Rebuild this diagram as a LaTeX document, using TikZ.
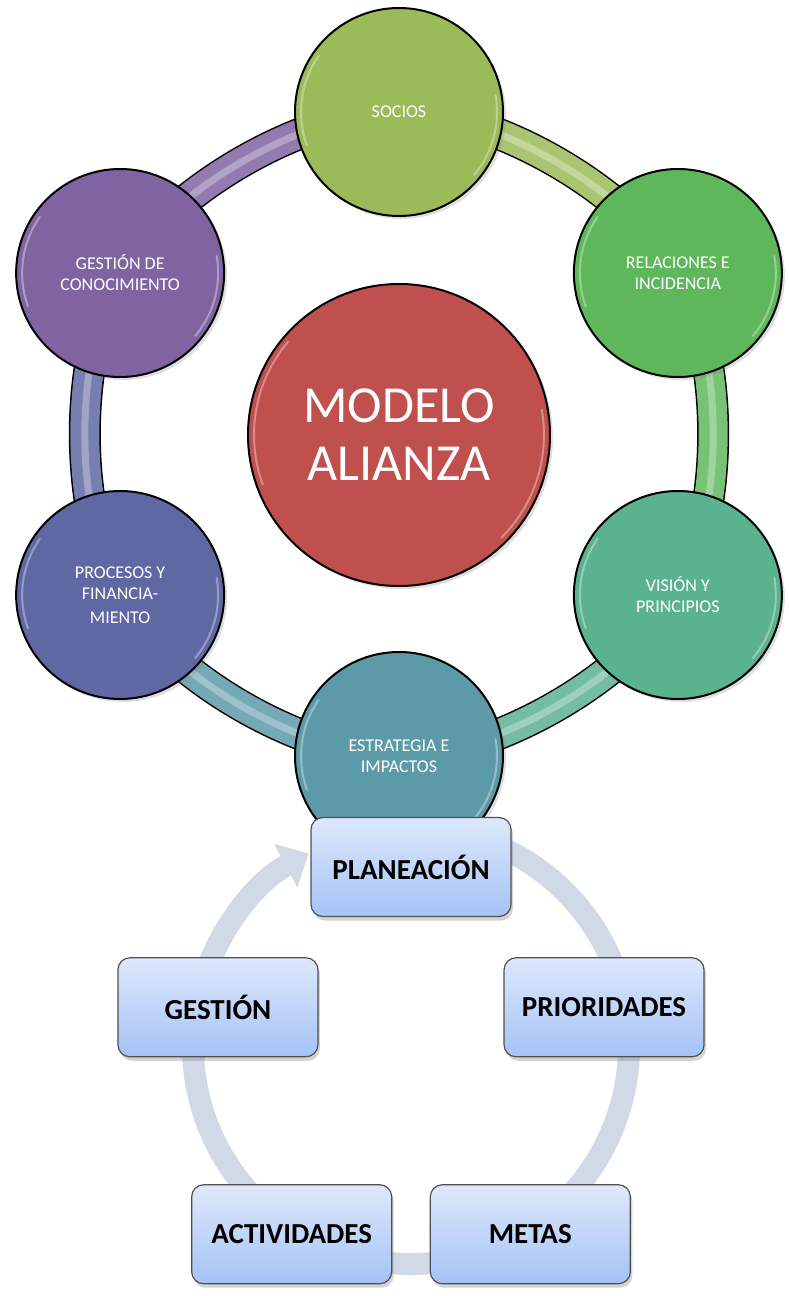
\documentclass[tikz,border=0pt]{standalone}
\usepackage{fontspec}
\setmainfont{Carlito}
\definecolor{modelcol}      {RGB}{192, 80, 77}
\definecolor{socioscol}     {RGB}{155, 187, 89}
\definecolor{relcol}        {RGB}{95, 183, 92}
\definecolor{viscol}        {RGB}{91, 178, 143}
\definecolor{estcol}        {RGB}{93, 154, 168}
\definecolor{procol}        {RGB}{95, 104, 163}
\definecolor{gescol}        {RGB}{128, 100, 162}
\definecolor{boxtop}        {RGB}{222, 232, 251}
\definecolor{boxbottom}     {RGB}{164, 195, 246}
\definecolor{boxedge}       {RGB}{80, 80, 80}
\definecolor{cyclecol}      {RGB}{210, 217, 230}
\usetikzlibrary{arrows.meta, positioning}
\usetikzlibrary{shadows, backgrounds}

\begin{document}
\begin{tikzpicture}[x=1pt, y=1pt,
    areacircle/.style={draw, circle, line width=2pt, text=white, minimum size=208pt, inner sep=0pt, align=center, font=\fontsize{18}{21}\selectfont, drop shadow={opacity=0.25, shadow xshift=3pt, shadow yshift=-3pt}},
    stagebox/.style={draw=boxedge, line width=1.2pt, rounded corners=12pt, minimum width=200pt, minimum height=99pt, top color=boxtop, bottom color=boxbottom, font=\fontsize{29}{34}\selectfont\bfseries, drop shadow={opacity=0.35, shadow xshift=2pt, shadow yshift=-4pt}},
    gloss/.style={white, opacity=0.35, line width=2pt, line cap=round}]
        \useasboundingbox (-399,434) rectangle (389,-862);
        \node[draw, circle, line width=2pt, fill=modelcol, text=white, minimum size=302pt, align=center, font=\fontsize{52}{58}\selectfont, drop shadow={opacity=0.25, shadow xshift=3pt, shadow yshift=-3pt}] (core) at (0,-1) {MODELO\\ALIANZA};
        \draw[gloss] ([shift={(140:145)}]core.center) arc[start angle=140, end angle=200, radius=145];
        \draw[gloss] ([shift={(-45:145)}]core.center) arc[start angle=-45, end angle=10, radius=145];
        \foreach \angle/\name/\col/\txt in {90/socios/socioscol/SOCIOS, 30/relaciones/relcol/{RELACIONES E\\INCIDENCIA}, -30/vision/viscol/{VISIÓN Y\\PRINCIPIOS}, -90/estrategia/estcol/{ESTRATEGIA E\\IMPACTOS}, 210/procesos/procol/{PROCESOS Y\\FINANCIA-\\[3pt]MIENTO}, 150/conocimiento/gescol/{GESTIÓN DE\\CONOCIMIENTO}}
        {
            \node[areacircle, fill=\col] (\name) at (\angle:322) {\txt};
            \draw[gloss] ([shift={(145:98)}]\name.center) arc[start angle=145, end angle=200, radius=98];
            \draw[gloss] ([shift={(-40:98)}]\name.center) arc[start angle=-40, end angle=10, radius=98];
        }
        % ring between the circles
        \begin{scope}[on background layer]
            \foreach \a/\b/\col in {socios/relaciones/socioscol, relaciones/vision/relcol, vision/estrategia/viscol, estrategia/procesos/estcol, procesos/conocimiento/procol, conocimiento/socios/gescol}
            {
                \draw[line width=32pt] (\a.center) to[bend left=30, looseness=0.75] (\b.center);
                \draw[line width=29pt, \col!85!white] (\a.center) to[bend left=30, looseness=0.75] (\b.center);
                \draw[line width=7pt, white, opacity=0.3] (\a.center) to[bend left=30, looseness=0.75] (\b.center);
            }
        \end{scope}
        % planning cycle
        \coordinate (cyc) at (12,-612);
        \begin{scope}[on background layer]
            \draw[line width=22pt, cyclecol, -{Triangle[length=26pt, width=48pt]}] ([shift={(75:218)}]cyc) arc[start angle=75, end angle=-242, radius=218];
        \end{scope}
        \foreach \angle/\name/\txt in {90/planeacion/PLANEACIÓN, 18/prioridades/PRIORIDADES, -54/metas/METAS, -126/actividades/ACTIVIDADES, 162/gestion/GESTIÓN}
        {
            \node[stagebox] (\name) at ([shift={(\angle:203)}]12,-636) {\txt};
        }
    \end{tikzpicture}
\end{document}
